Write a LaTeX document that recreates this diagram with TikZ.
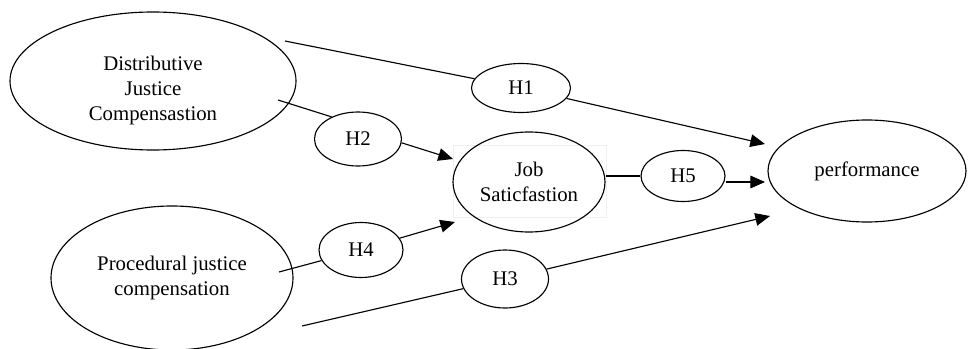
\documentclass[tikz,border=0pt]{standalone}
\usepackage{fontspec}
\setmainfont{Liberation Serif}
\usetikzlibrary{arrows.meta,shapes.geometric}

\begin{document}
\begin{tikzpicture}[x=0.75pt,y=-0.75pt,->,>={Triangle[length=11pt,width=9.5pt]},
                    line width=0.85pt, font=\fontsize{15.6pt}{18.75pt}\selectfont]

  \tikzstyle{oval} = [ellipse, draw, inner sep=0pt, align=center]
  \useasboundingbox (0,0) rectangle (970,349);

  \node[oval, minimum width=214.5pt, minimum height=103.5pt,
        label={[name=djtext, align=center, yshift=-7pt]center:Distributive\\Justice\\Compensastion}]
                                                   (dj)    at (153,81)  {};
  \node[oval, minimum width=181.5pt, minimum height=108pt] (pj) at (172,278) {Procedural justice\\compensation};
  \node[draw=black!6, line width=0.4pt, minimum width=114.75pt, minimum height=54pt, inner sep=0pt]
                                                   (jsbox) at (529.5,181) {};
  \node[oval, minimum width=114pt, minimum height=75pt]    (js)   at (529,182) {Job\\Saticfastion};
  \node[oval, minimum width=74.25pt, minimum height=36.75pt] (h1) at (521,88)  {H1};
  \node[oval, minimum width=65.25pt, minimum height=40.5pt]  (h2) at (358,139) {H2};
  \node[oval, minimum width=65.25pt, minimum height=43.5pt]  (h3) at (505,279) {H3};
  \node[oval, minimum width=63pt, minimum height=41.25pt]    (h4) at (361,250) {H4};
  \node[oval, minimum width=63pt, minimum height=38.25pt]    (h5) at (683,176) {H5};
  \node[oval, minimum width=148.5pt, minimum height=76.5pt]  (perf) at (867,171) {performance};

  % free ends of the connectors
  \coordinate (d1) at (285,41);
  \coordinate (d2) at (278,100);
  \coordinate (q1) at (279,272);
  \coordinate (q2) at (302,326);
  \coordinate (j1) at (453,159);
  \coordinate (j2) at (455,222);
  \coordinate (p1) at (765,144);
  \coordinate (p2) at (765,182);
  \coordinate (p3) at (770,216);

  \path (d1)     edge[-]  (h1)
        (h1)     edge     (p1)
        (d2)     edge[-]  (h2.140)
        (h2.-5)  edge     (j1)
        (q1)     edge[-]  (h4.195)
        (h4.17)  edge     (j2)
        (q2)     edge[-]  (h3)
        (h3)     edge     (p3)
        (h5.west -| jsbox.east) edge[-] (h5)
        (p2 -| h5.east) edge (p2);
\end{tikzpicture}
\end{document}
